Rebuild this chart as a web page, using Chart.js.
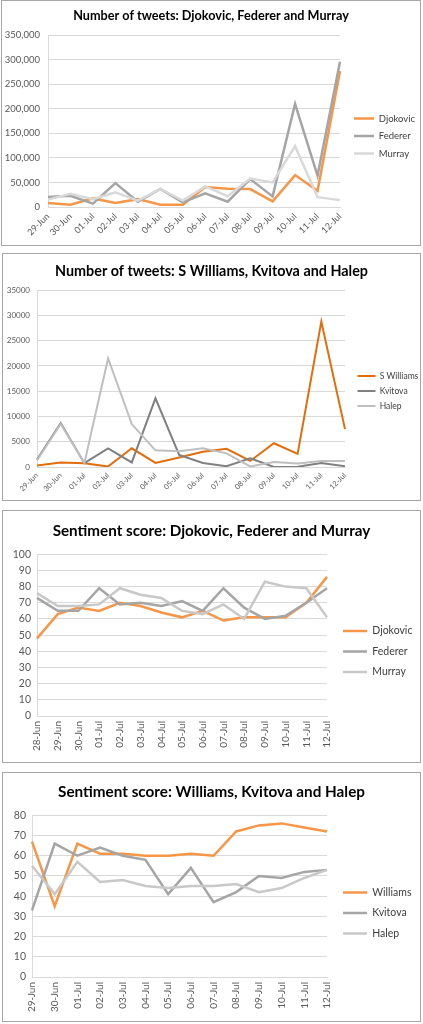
<!DOCTYPE html>
<html>
<head>
<meta charset="utf-8">
<title>Wimbledon tweets and sentiment</title>
<script src="https://cdn.jsdelivr.net/npm/chart.js@4.4.1/dist/chart.umd.min.js"></script>
<style>
  html, body { margin: 0; padding: 0; background: #fff; }
  body { width: 423px; height: 1024px; position: relative; overflow: hidden; }
  .frame { position: absolute; box-sizing: border-box; border: 1px solid #a6a6a6; background: #fff; }
  .frame canvas { display: block; }
</style>
</head>
<body>
<div class="frame" style="left:1px;top:0px;width:420px;height:246px"><canvas id="tweetsMen"></canvas></div>
<div class="frame" style="left:2px;top:253px;width:419px;height:248px"><canvas id="tweetsWomen"></canvas></div>
<div class="frame" style="left:2px;top:510px;width:419px;height:253px"><canvas id="sentMen"></canvas></div>
<div class="frame" style="left:2px;top:772px;width:419px;height:250px"><canvas id="sentWomen"></canvas></div>
<script>
// dates
const days14 = ["29-Jun", "30-Jun", "01-Jul", "02-Jul", "03-Jul", "04-Jul", "05-Jul",
  "06-Jul", "07-Jul", "08-Jul", "09-Jul", "10-Jul", "11-Jul", "12-Jul"];
const days15 = ["28-Jun", "29-Jun", "30-Jun", "01-Jul", "02-Jul", "03-Jul", "04-Jul", "05-Jul",
  "06-Jul", "07-Jul", "08-Jul", "09-Jul", "10-Jul", "11-Jul", "12-Jul"];

// number of tweets, men
const menNames = ["Djokovic", "Federer", "Murray"];
const tweetsDjokovic = [8000, 4700, 17500, 8000, 16000, 4700, 4700, 40500, 37000, 36500, 11500, 65000, 33000, 277000];
const tweetsFederer = [20300, 23000, 6800, 48700, 10800, 37000, 9500, 28000, 10800, 56800, 21600, 210000, 64000, 296000];
const tweetsMurray = [15000, 27000, 16000, 30000, 13000, 37000, 13000, 42000, 22000, 58000, 50000, 124000, 20000, 14000];

// number of tweets, women
const womenNames = ["S Williams", "Kvitova", "Halep"];
const tweetsWilliams = [300, 900, 750, 100, 3700, 800, 1900, 3000, 3600, 1200, 4700, 2600, 28800, 7500];
const tweetsKvitova = [1500, 8700, 750, 3700, 900, 13600, 2400, 800, 150, 1700, 0, 50, 800, 150];
const tweetsHalep = [1300, 8500, 750, 21500, 8500, 3300, 3100, 3700, 2700, 100, 1000, 700, 1200, 1200];

// sentiment score, men (from 28-Jun)
const sentDjokovic = [48, 63, 67, 65, 70, 68, 64, 61, 65, 59, 61, 61, 61, 70, 86];
const sentFederer = [73, 65, 65, 79, 69, 70, 68, 71, 65, 79, 67, 60, 62, 70, 79];
const sentMurray = [76, 68, 68, 69, 79, 75, 73, 65, 63, 69, 60, 83, 80, 79, 61];

// sentiment score, women
const womenNames2 = ["Williams", "Kvitova", "Halep"];
const sentWilliams = [67, 35, 66, 61, 61, 60, 60, 61, 60, 72, 75, 76, 74, 72];
const sentKvitova = [33, 66, 60, 64, 60, 58, 41, 54, 37, 42, 50, 49, 52, 53];
const sentHalep = [55, 41, 57, 47, 48, 45, 44, 45, 45, 46, 42, 44, 49, 53];

const FONT = "Lato, 'Open Sans', sans-serif";

// pick a bold title size that gives the same width as in the picture
function titleSize(text, target) {
  const c = document.createElement("canvas").getContext("2d");
  c.font = "bold 100px " + FONT;
  return 100 * target / c.measureText(text).width;
}

function lineChart(id, labels, names, series, colors, o) {
  const datasets = names.map((name, i) => ({
    label: name,
    data: series[i],
    borderColor: colors[i],
    backgroundColor: colors[i],
    borderWidth: o.lw,
    pointRadius: 0,
    pointStyle: "line",
    tension: 0,
    order: -i,
  }));
  return new Chart(document.getElementById(id), {
    type: "line",
    data: { labels: labels, datasets: datasets },
    options: {
      responsive: true,
      maintainAspectRatio: false,
      animation: false,
      layout: { padding: { left: 0, right: 0, top: 0, bottom: 0 } },
      plugins: {
        title: {
          display: true,
          text: o.title,
          color: "#000",
          font: { family: FONT, size: titleSize(o.title, o.titleW), weight: "bold" },
          padding: o.titlePad,
        },
        legend: {
          position: "right",
          maxWidth: o.legendW,
          title: { display: true, text: " ", font: { size: 10 }, padding: { top: o.legendShift, bottom: 0 } },
          labels: {
            usePointStyle: true,
            pointStyleWidth: o.legendLine,
            color: "#404040",
            font: { family: FONT, size: o.legendSize },
            padding: o.legendGap,
            sort: (a, b) => a.datasetIndex - b.datasetIndex,
          },
        },
        tooltip: { enabled: false },
      },
      scales: {
        x: {
          grid: { display: false, drawTicks: false },
          border: { color: "#d9d9d9" },
          ticks: {
            autoSkip: false,
            minRotation: o.rot,
            maxRotation: o.rot,
            color: "#595959",
            font: { family: FONT, size: o.xSize },
            padding: o.xPad,
          },
          afterFit: (s) => { s.height = o.xH; },
        },
        y: {
          min: 0,
          max: o.ymax,
          grid: { color: "#d9d9d9", drawTicks: false },
          border: { display: true, color: "#d9d9d9" },
          ticks: {
            stepSize: o.step,
            color: "#595959",
            font: { family: FONT, size: o.ySize },
            padding: o.yPad,
            callback: o.fmt,
          },
          afterFit: (s) => { s.width = o.yW; },
        },
        // empty strip between plot and legend
        gap: {
          position: "right",
          grid: { display: false, drawTicks: false },
          border: { display: false },
          ticks: { display: false },
          afterFit: (s) => { s.width = 6; },
        },
      },
    },
  });
}

lineChart("tweetsMen", days14, menNames,
  [tweetsDjokovic, tweetsFederer, tweetsMurray],
  ["#f79646", "#a5a5a5", "#d9d9d9"], {
    title: "Number of tweets: Djokovic, Federer and Murray", titleW: 276,
    titlePad: { top: 7, bottom: 12 },
    lw: 2.5, rot: 45, xSize: 9, xPad: 4, xH: 38,
    ymax: 350000, step: 50000, ySize: 9.5, yPad: 8, yW: 46,
    fmt: (v) => v.toLocaleString("en-US"),
    legendW: 74, legendSize: 9.5, legendLine: 20, legendGap: 8, legendShift: 14,
  });

lineChart("tweetsWomen", days14, womenNames,
  [tweetsWilliams, tweetsKvitova, tweetsHalep],
  ["#e46c0a", "#808080", "#bfbfbf"], {
    title: "Number of tweets: S Williams, Kvitova and Halep", titleW: 313,
    titlePad: { top: 9, bottom: 10 },
    lw: 2, rot: 45, xSize: 7.5, xPad: 4, xH: 33,
    ymax: 35000, step: 5000, ySize: 8, yPad: 7, yW: 34,
    fmt: (v) => String(v),
    legendW: 69, legendSize: 8.5, legendLine: 18, legendGap: 6.5, legendShift: 16,
  });

lineChart("sentMen", days15, menNames,
  [sentDjokovic, sentFederer, sentMurray],
  ["#f79646", "#a5a5a5", "#c8c8c8"], {
    title: "Sentiment score: Djokovic, Federer and Murray", titleW: 318,
    titlePad: { top: 11, bottom: 14 },
    lw: 2.5, rot: 90, xSize: 10, xPad: 5, xH: 46,
    ymax: 100, step: 10, ySize: 10.5, yPad: 6, yW: 34,
    fmt: (v) => String(v),
    legendW: 87, legendSize: 10.5, legendLine: 24, legendGap: 10, legendShift: 18,
  });

lineChart("sentWomen", days14, womenNames2,
  [sentWilliams, sentKvitova, sentHalep],
  ["#f79646", "#a5a5a5", "#c8c8c8"], {
    title: "Sentiment score: Williams, Kvitova and Halep", titleW: 307,
    titlePad: { top: 10, bottom: 14 },
    lw: 2.5, rot: 90, xSize: 10, xPad: 5, xH: 44,
    ymax: 80, step: 10, ySize: 10.5, yPad: 6, yW: 29,
    fmt: (v) => String(v),
    legendW: 87, legendSize: 10.5, legendLine: 24, legendGap: 10, legendShift: 20,
  });
</script>
</body>
</html>
